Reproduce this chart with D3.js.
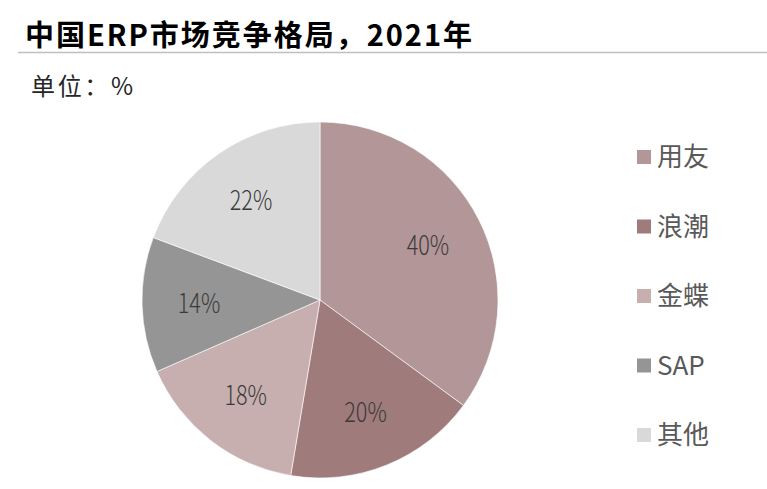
<!DOCTYPE html>
<html lang="zh">
<head>
<meta charset="UTF-8">
<title>中国ERP市场竞争格局，2021年</title>
<script src="https://d3js.org/d3.v7.min.js"></script>
<style>
  body { margin: 0; background: #fff; }
  svg { display: block; font-family: "Noto Sans CJK SC", "Noto Sans", sans-serif; }
</style>
</head>
<body>
<svg id="chart" width="767" height="489"></svg>
<script>
// data (labels add up to 114, the pie is drawn from them as-is)
var companies = ["用友", "浪潮", "金蝶", "SAP", "其他"];
var shares = [40, 20, 18, 14, 22];
var sliceColors = ["#b39697", "#a07b7b", "#c7afaf", "#959595", "#d9d9d9"];

var svg = d3.select("#chart");

// title + rule
svg.append("text")
    .attr("x", 25).attr("y", 46)
    .attr("font-size", 29).attr("font-weight", "bold")
    .attr("fill", "#000")
    .attr("textLength", 447).attr("lengthAdjust", "spacing")
    .text("中国ERP市场竞争格局，2021年");
svg.append("line")
    .attr("x1", 18).attr("x2", 767)
    .attr("y1", 52.5).attr("y2", 52.5)
    .attr("stroke", "#bfbfbf").attr("stroke-width", 1.5);
svg.append("text")
    .attr("x", 31).attr("y", 95)
    .attr("font-size", 24).attr("fill", "#262626")
    .attr("textLength", 102).attr("lengthAdjust", "spacing")
    .text("单位：%");

// pie
var cx = 320, cy = 300, radius = 178;
var pie = d3.pie().sort(null).value(function (d) { return d; });
var arc = d3.arc().innerRadius(0).outerRadius(radius);
var labelArc = d3.arc().innerRadius(radius * 0.68).outerRadius(radius * 0.68);
var arcs = pie(shares);

var g = svg.append("g").attr("transform", "translate(" + cx + "," + cy + ")");
g.selectAll("path")
    .data(arcs)
    .enter().append("path")
    .attr("d", arc)
    .attr("fill", function (d, i) { return sliceColors[i]; })
    .attr("stroke", "#fff")
    .attr("stroke-width", 0.6);

g.selectAll("text.lbl")
    .data(arcs)
    .enter().append("text")
    .attr("class", "lbl")
    .attr("transform", function (d) {
        return "translate(" + labelArc.centroid(d) + ") scale(0.8,1)";
    })
    .attr("text-anchor", "middle")
    .attr("dy", "0.36em")
    .attr("font-size", 27)
    .attr("font-weight", 300)
    .attr("fill", "#3a3a3a")
    .text(function (d) { return d.data + "%"; });

// legend
var legendY = d3.scalePoint().domain(companies).range([157, 435]);
var legend = svg.append("g");
var item = legend.selectAll("g")
    .data(companies)
    .enter().append("g")
    .attr("transform", function (d) { return "translate(637," + legendY(d) + ")"; });
item.append("rect")
    .attr("x", 0).attr("y", -7)
    .attr("width", 14).attr("height", 14)
    .attr("fill", function (d, i) { return sliceColors[i]; });
item.append("text")
    .attr("x", 20).attr("dy", "0.36em")
    .attr("font-size", 26)
    .attr("fill", "#595959")
    .text(function (d) { return d; });
</script>
</body>
</html>
